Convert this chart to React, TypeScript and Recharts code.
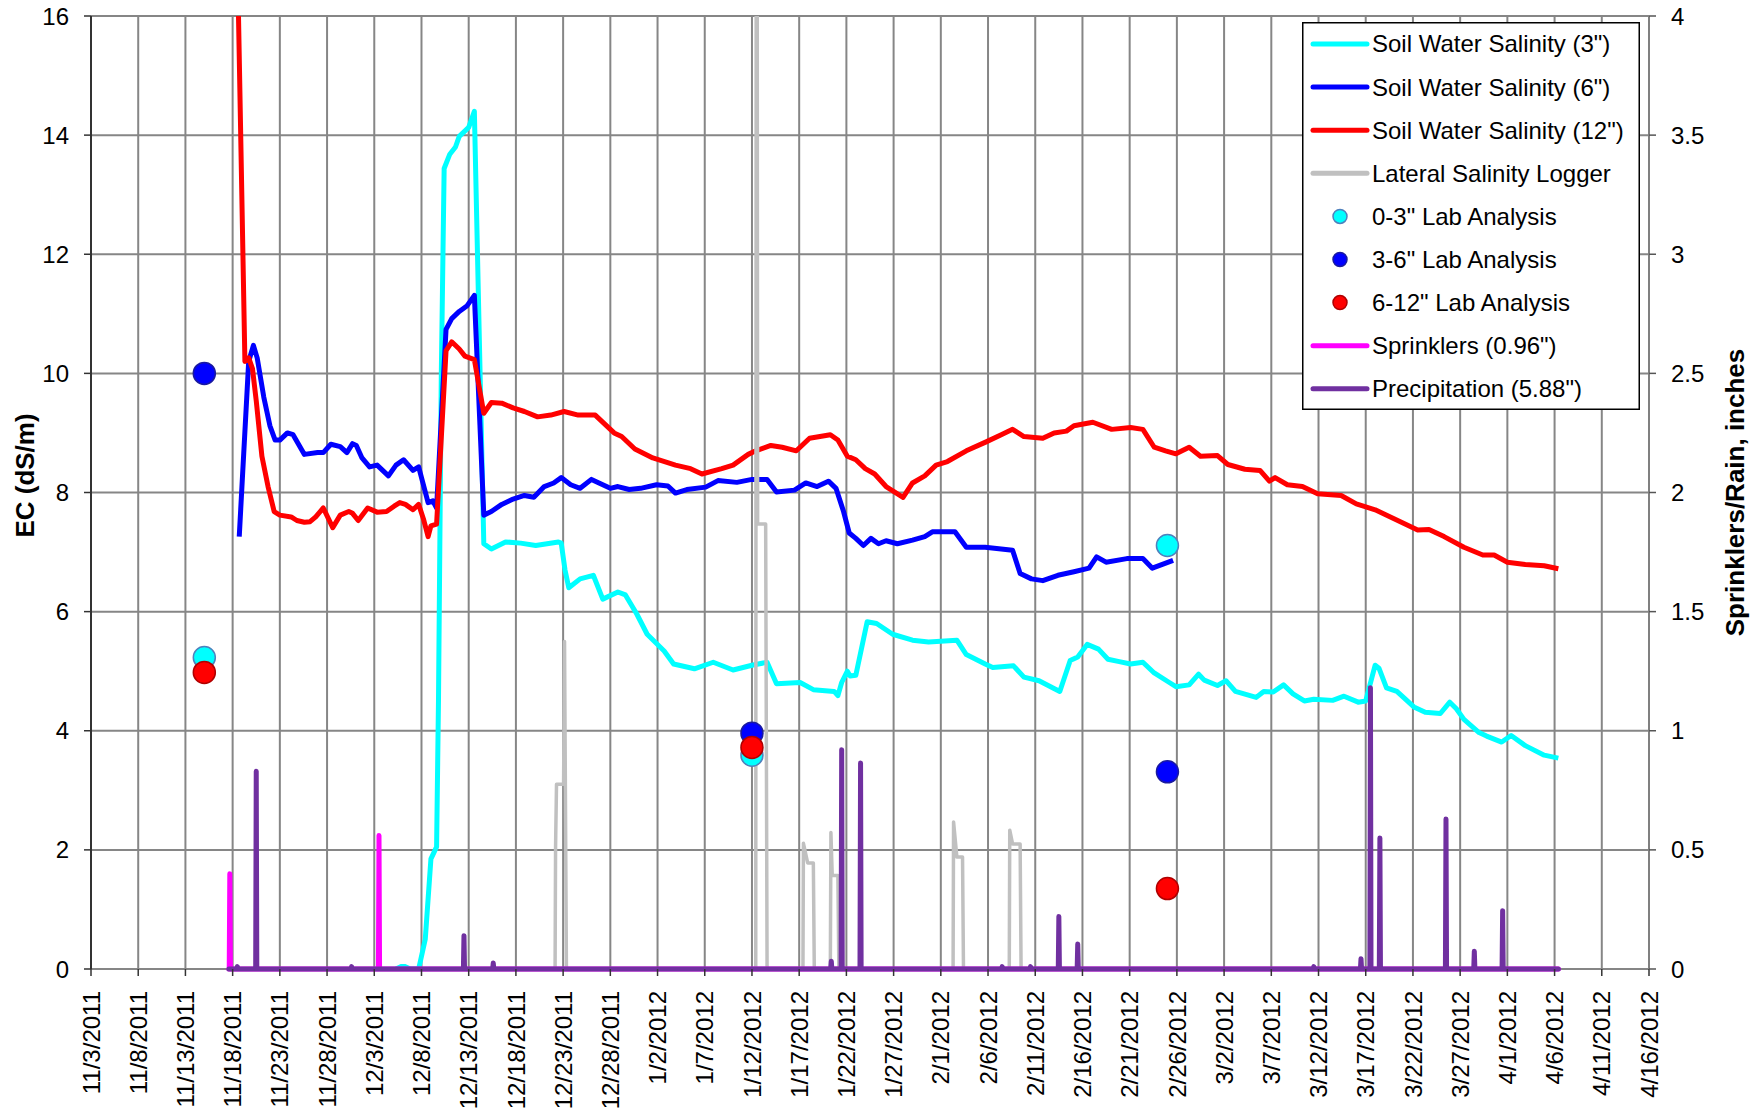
import React from 'react';
import { ComposedChart, Line, Scatter, XAxis, YAxis, CartesianGrid, Legend } from 'recharts';

const FONT = '"Liberation Sans", Arial, Helvetica, sans-serif';

// x values are days since 11/3/2011
const dateLabels = [
  '11/3/2011', '11/8/2011', '11/13/2011', '11/18/2011', '11/23/2011', '11/28/2011',
  '12/3/2011', '12/8/2011', '12/13/2011', '12/18/2011', '12/23/2011', '12/28/2011',
  '1/2/2012', '1/7/2012', '1/12/2012', '1/17/2012', '1/22/2012', '1/27/2012',
  '2/1/2012', '2/6/2012', '2/11/2012', '2/16/2012', '2/21/2012', '2/26/2012',
  '3/2/2012', '3/7/2012', '3/12/2012', '3/17/2012', '3/22/2012', '3/27/2012',
  '4/1/2012', '4/6/2012', '4/11/2012', '4/16/2012',
];
const dayTicks = dateLabels.map((_, i) => i * 5);
const ecTicks = [0, 2, 4, 6, 8, 10, 12, 14, 16];
const rainTicks = [0, 0.5, 1, 1.5, 2, 2.5, 3, 3.5, 4];

type P = [number, number];

const soil3: P[] = [
  [32.3, 0], [32.8, 0.04], [33.3, 0.04], [33.8, 0], [34.7, 0], [35.4, 0.5], [36.0, 1.85], [36.6, 2.05],
  [36.8, 4.5], [37.1, 10], [37.4, 13.44], [38.0, 13.68], [38.6, 13.8], [39.0, 13.98], [40.0, 14.13],
  [40.6, 14.4], [41.6, 7.14], [42.4, 7.05], [43.9, 7.17], [45.5, 7.15], [47.1, 7.11], [49.5, 7.17],
  [49.8, 7.15], [50.2, 6.7], [50.6, 6.4], [51.8, 6.55], [53.2, 6.61], [54.2, 6.21], [55.8, 6.33],
  [56.6, 6.28], [57.8, 5.96], [58.9, 5.62], [60.7, 5.34], [61.7, 5.12], [63.9, 5.04], [65.9, 5.15],
  [68.0, 5.02], [70.0, 5.1], [71.6, 5.15], [72.6, 4.79], [75.1, 4.81], [76.5, 4.69], [78.7, 4.66],
  [79.1, 4.59], [79.5, 4.81], [80.1, 5.0], [80.4, 4.92], [81.0, 4.93], [82.2, 5.83], [83.2, 5.8],
  [84.9, 5.62], [87.0, 5.52], [88.7, 5.49], [91.7, 5.52], [92.7, 5.28], [94.7, 5.12], [95.5, 5.06],
  [97.7, 5.09], [98.8, 4.9], [100.4, 4.84], [102.6, 4.66], [103.7, 5.18], [104.5, 5.24], [105.5, 5.45],
  [106.7, 5.37], [107.7, 5.2], [108.9, 5.16], [110.1, 5.12], [111.4, 5.15], [112.6, 4.97], [114.2, 4.81],
  [114.9, 4.74], [116.3, 4.77], [117.3, 4.95], [117.9, 4.85], [119.3, 4.76], [120.2, 4.84], [121.2, 4.66],
  [123.4, 4.56], [124.2, 4.66], [125.2, 4.65], [126.3, 4.77], [127.3, 4.62], [128.5, 4.5], [129.5, 4.53],
  [131.5, 4.51], [132.7, 4.58], [134.2, 4.48], [135.0, 4.5], [136.0, 5.1], [136.4, 5.05], [137.2, 4.72],
  [138.3, 4.66], [140.1, 4.4], [141.3, 4.31], [142.9, 4.29], [143.9, 4.48], [144.6, 4.37], [145.4, 4.19],
  [147.0, 3.97], [147.8, 3.91], [149.4, 3.81], [150.4, 3.92], [151.9, 3.75], [153.9, 3.59], [155.4, 3.54],
];

const soil6: P[] = [
  [15.7, 7.26], [16.7, 10.2], [17.2, 10.47], [17.6, 10.26], [18.3, 9.6], [18.95, 9.12], [19.5, 8.88],
  [20.0, 8.88], [20.8, 9.0], [21.4, 8.97], [22.6, 8.64], [24.0, 8.67], [24.6, 8.67], [25.4, 8.81],
  [26.4, 8.77], [27.1, 8.67], [27.7, 8.82], [28.1, 8.79], [28.7, 8.58], [29.5, 8.43], [30.3, 8.46],
  [31.5, 8.28], [32.3, 8.46], [33.1, 8.55], [34.1, 8.37], [34.7, 8.43], [35.7, 7.83], [36.2, 7.86],
  [36.6, 7.74], [37.6, 10.74], [38.2, 10.92], [39.0, 11.04], [39.8, 11.13], [40.6, 11.31], [41.6, 7.62],
  [42.4, 7.68], [43.5, 7.8], [44.7, 7.89], [45.9, 7.95], [46.9, 7.92], [48.0, 8.1], [49.0, 8.16],
  [49.8, 8.25], [50.8, 8.13], [51.8, 8.07], [53.0, 8.22], [55.0, 8.07], [55.8, 8.1], [57.0, 8.05],
  [58.2, 8.07], [59.9, 8.13], [61.1, 8.11], [61.9, 7.99], [63.1, 8.05], [65.1, 8.09], [66.4, 8.2],
  [68.4, 8.17], [70.0, 8.22], [71.6, 8.22], [72.6, 8.01], [74.5, 8.04], [75.7, 8.16], [76.9, 8.1],
  [78.1, 8.19], [78.9, 8.07], [79.7, 7.68], [80.3, 7.32], [81.0, 7.23], [81.8, 7.11], [82.6, 7.23],
  [83.4, 7.14], [84.2, 7.19], [85.4, 7.14], [87.0, 7.2], [88.3, 7.26], [89.1, 7.34], [91.5, 7.34],
  [92.7, 7.08], [94.7, 7.08], [97.6, 7.03], [98.4, 6.64], [99.6, 6.55], [100.8, 6.52], [102.4, 6.61],
  [104.1, 6.67], [105.7, 6.73], [106.5, 6.92], [107.5, 6.83], [109.7, 6.89], [111.4, 6.89], [112.4, 6.73],
  [114.6, 6.86],
];

const soil12: P[] = [
  [15.55, 16.6], [16.3, 10.2], [16.7, 10.26], [17.1, 10.08], [17.5, 9.54], [18.1, 8.61], [18.75, 8.1],
  [19.4, 7.68], [20.0, 7.62], [21.2, 7.59], [21.8, 7.53], [22.6, 7.5], [23.2, 7.51], [23.8, 7.59],
  [24.6, 7.74], [25.6, 7.41], [26.4, 7.62], [27.3, 7.68], [27.7, 7.65], [28.3, 7.53], [29.3, 7.74],
  [30.3, 7.67], [31.3, 7.68], [32.1, 7.77], [32.7, 7.83], [33.3, 7.8], [34.1, 7.71], [34.7, 7.8],
  [35.2, 7.56], [35.7, 7.26], [36.0, 7.44], [36.6, 7.47], [37.6, 10.38], [38.2, 10.53], [39.0, 10.41],
  [39.6, 10.29], [40.6, 10.23], [41.6, 9.33], [42.4, 9.51], [43.5, 9.5], [44.7, 9.42], [45.9, 9.36],
  [47.3, 9.27], [48.7, 9.3], [50.1, 9.36], [51.6, 9.3], [53.4, 9.3], [55.4, 9.0], [56.2, 8.94],
  [57.6, 8.73], [59.5, 8.58], [61.9, 8.46], [63.5, 8.4], [64.7, 8.31], [66.8, 8.4], [68.0, 8.46],
  [69.6, 8.64], [70.4, 8.7], [72.0, 8.79], [73.2, 8.76], [74.7, 8.7], [76.1, 8.91], [78.3, 8.97],
  [79.1, 8.88], [80.1, 8.61], [81.0, 8.55], [82.0, 8.4], [83.0, 8.31], [84.2, 8.1], [86.0, 7.92],
  [87.0, 8.16], [88.3, 8.28], [89.5, 8.46], [90.7, 8.52], [92.7, 8.7], [94.8, 8.85], [96.4, 8.97],
  [97.6, 9.06], [98.8, 8.94], [100.8, 8.91], [102.0, 9.0], [103.3, 9.03], [104.1, 9.12], [106.1, 9.18],
  [108.1, 9.06], [110.1, 9.09], [111.4, 9.06], [112.6, 8.76], [113.8, 8.7], [114.9, 8.65], [116.3, 8.76],
  [117.5, 8.61], [119.3, 8.62], [120.4, 8.47], [122.2, 8.39], [123.8, 8.37], [124.8, 8.19], [125.4, 8.25],
  [126.7, 8.13], [128.3, 8.1], [129.9, 7.98], [132.4, 7.95], [134.0, 7.81], [136.0, 7.71], [138.0, 7.56],
  [140.5, 7.37], [141.7, 7.38], [143.3, 7.26], [145.4, 7.08], [147.4, 6.95], [148.6, 6.95], [150.0, 6.83],
  [151.9, 6.79], [153.9, 6.77], [155.4, 6.72],
];

const lateralLogger: P[] = [
  [14.6, 0], [49.15, 0], [49.2, 2.05], [49.3, 3.1], [50.05, 3.1], [50.15, 5.5], [50.35, 0],
  [70.4, 0], [70.45, 18], [70.55, 18], [70.6, 7.47], [71.45, 7.47], [71.6, 0],
  [75.4, 0], [75.45, 2.11], [75.9, 1.78], [76.5, 1.78], [76.6, 0],
  [78.3, 0], [78.36, 2.29], [78.5, 1.57], [79.1, 1.57], [79.2, 0],
  [91.3, 0], [91.35, 2.47], [91.7, 1.88], [92.3, 1.88], [92.4, 0],
  [97.25, 0], [97.3, 2.33], [97.6, 2.1], [98.4, 2.1], [98.5, 0], [155.4, 0],
];

const lab03: P[] = [[12, 5.23], [70, 3.59], [114, 7.11]];
const lab36: P[] = [[12, 10.0], [70, 3.96], [114, 3.31]];
const lab612: P[] = [[12, 4.98], [70, 3.72], [114, 1.35]];

const sprinklerEvents: P[] = [[14.7, 0.4], [30.5, 0.56]];
const precipEvents: P[] = [
  [15.5, 0.01], [17.5, 0.83], [27.6, 0.01], [39.5, 0.14], [42.6, 0.025], [78.4, 0.033], [79.5, 0.92],
  [81.5, 0.865], [96.5, 0.01], [99.5, 0.01], [102.5, 0.22], [104.5, 0.105], [129.5, 0.01], [134.5, 0.043],
  [135.5, 1.18], [136.5, 0.55], [143.5, 0.63], [146.5, 0.074], [149.5, 0.245],
];
const recordStart = 14.6;
const recordEnd = 155.4;

const toXY = (arr: P[]) => arr.map(([x, y]) => ({ x, y }));
const spikes = (events: P[]) => {
  const pts: { x: number; y: number }[] = [{ x: recordStart, y: 0 }];
  events.forEach(([d, v]) => {
    pts.push({ x: d - 0.06, y: 0 }, { x: d, y: v }, { x: d + 0.06, y: 0 });
  });
  pts.push({ x: recordEnd, y: 0 });
  return pts;
};

const legendItems = [
  { label: 'Soil Water Salinity (3")', kind: 'line', color: '#00FFFF' },
  { label: 'Soil Water Salinity (6")', kind: 'line', color: '#0000FF' },
  { label: 'Soil Water Salinity (12")', kind: 'line', color: '#FF0000' },
  { label: 'Lateral Salinity Logger', kind: 'line', color: '#C0C0C0' },
  { label: '0-3" Lab Analysis', kind: 'dot', color: '#00FFFF', edge: '#4F81BD' },
  { label: '3-6" Lab Analysis', kind: 'dot', color: '#0000FF', edge: '#1A1AA0' },
  { label: '6-12" Lab Analysis', kind: 'dot', color: '#FF0000', edge: '#B00000' },
  { label: 'Sprinklers (0.96")', kind: 'line', color: '#FF00FF' },
  { label: 'Precipitation (5.88")', kind: 'line', color: '#7030A0' },
];

const LegendBox = () => (
  <svg width={338} height={388} style={{ display: 'block' }}>
    <rect x={0.75} y={0.75} width={336.5} height={386.5} fill="#fff" stroke="#000" strokeWidth={1.5} />
    {legendItems.map((it, i) => {
      const cy = 22 + i * 43.1;
      return (
        <g key={it.label}>
          {it.kind === 'line' ? (
            <line x1={11} y1={cy} x2={65} y2={cy} stroke={it.color} strokeWidth={5} strokeLinecap="round" />
          ) : (
            <circle cx={38} cy={cy} r={7} fill={it.color} stroke={it.edge} strokeWidth={1.5} />
          )}
          <text x={70} y={cy} dy="0.35em" fontSize={24} fontFamily={FONT} fill="#000">
            {it.label}
          </text>
        </g>
      );
    })}
  </svg>
);

const DateTick = (props: any) => {
  const { x, y, payload } = props;
  const i = Math.round(payload.value / 5);
  return (
    <text x={x} y={y} transform={`rotate(-90 ${x} ${y})`} textAnchor="end" dy="0.36em"
      fontSize={24} fontFamily={FONT} fill="#000">
      {dateLabels[i]}
    </text>
  );
};

const LeftTitle = (props: any) => {
  const vb = props.viewBox || { x: 0, y: 16, width: 91, height: 953 };
  const cx = vb.x + 25;
  const cy = vb.y + vb.height / 2 - 17;
  return (
    <text x={cx} y={cy} transform={`rotate(-90 ${cx} ${cy})`} textAnchor="middle" dy="0.35em"
      fontSize={26} fontWeight="bold" fontFamily={FONT} fill="#000">EC (dS/m)</text>
  );
};

const RightTitle = (props: any) => {
  const vb = props.viewBox || { x: 1649, y: 16, width: 114, height: 953 };
  const cx = vb.x + 86;
  const cy = vb.y + vb.height / 2;
  return (
    <text x={cx} y={cy} transform={`rotate(-90 ${cx} ${cy})`} textAnchor="middle" dy="0.35em"
      fontSize={26} fontWeight="bold" fontFamily={FONT} fill="#000">Sprinklers/Rain, inches</text>
  );
};

const dotShape = (fill: string, edge: string) => (props: any) => (
  <circle cx={props.cx} cy={props.cy} r={11} fill={fill} stroke={edge} strokeWidth={1.5} />
);

export default function App() {
  return (
    <div style={{ position: 'absolute', left: 0, top: 0, width: 1763, height: 1119, background: '#fff' }}>
      <ComposedChart width={1763} height={1119} margin={{ top: 16, right: 0, bottom: 0, left: 0 }}
        style={{ fontFamily: FONT }}>
        <CartesianGrid yAxisId="left" stroke="#868686" strokeWidth={2} />
        <XAxis type="number" dataKey="x" domain={[0, 165]} ticks={dayTicks} interval={0} height={150}
          tickSize={7} tickMargin={15} tick={<DateTick />}
          axisLine={false} tickLine={{ stroke: '#333', strokeWidth: 1.5 }} />
        <YAxis yAxisId="left" type="number" dataKey="y" domain={[0, 16]} ticks={ecTicks} interval={0}
          width={91} allowDataOverflow tickSize={7} tickMargin={15}
          tick={{ fontSize: 24, fill: '#000', fontFamily: FONT }}
          axisLine={{ stroke: '#333', strokeWidth: 2 }} tickLine={{ stroke: '#333', strokeWidth: 1.5 }}
          label={{ content: <LeftTitle /> } as any} />
        <YAxis yAxisId="right" orientation="right" type="number" dataKey="y" domain={[0, 4]} ticks={rainTicks}
          interval={0} width={114} tickSize={7} tickMargin={15}
          tick={{ fontSize: 24, fill: '#000', fontFamily: FONT }}
          axisLine={{ stroke: '#808080', strokeWidth: 2 }} tickLine={{ stroke: '#555', strokeWidth: 1.5 }}
          label={{ content: <RightTitle /> } as any} />

        <Line yAxisId="left" data={toXY(soil3)} dataKey="y" stroke="#00FFFF" strokeWidth={5} dot={false}
          isAnimationActive={false} strokeLinejoin="round" legendType="none" />
        <Line yAxisId="left" data={toXY(soil6)} dataKey="y" stroke="#0000FF" strokeWidth={5} dot={false}
          isAnimationActive={false} strokeLinejoin="round" legendType="none" />
        <Line yAxisId="left" data={toXY(soil12)} dataKey="y" stroke="#FF0000" strokeWidth={5} dot={false}
          isAnimationActive={false} strokeLinejoin="round" legendType="none" />
        <Line yAxisId="left" data={toXY(lateralLogger)} dataKey="y" stroke="#C0C0C0" strokeWidth={3.5}
          dot={false} isAnimationActive={false} strokeLinejoin="round" legendType="none" />
        <Line yAxisId="right" data={spikes(sprinklerEvents)} dataKey="y" stroke="#FF00FF" strokeWidth={5}
          dot={false} isAnimationActive={false} strokeLinejoin="round" strokeLinecap="round" legendType="none" />
        <Line yAxisId="right" data={spikes(precipEvents)} dataKey="y" stroke="#7030A0" strokeWidth={5}
          dot={false} isAnimationActive={false} strokeLinejoin="round" strokeLinecap="round" legendType="none" />

        <Scatter yAxisId="left" data={toXY(lab03)} isAnimationActive={false}
          shape={dotShape('#00FFFF', '#4F81BD')} legendType="none" />
        <Scatter yAxisId="left" data={toXY(lab36)} isAnimationActive={false}
          shape={dotShape('#0000FF', '#1A1AA0')} legendType="none" />
        <Scatter yAxisId="left" data={toXY(lab612)} isAnimationActive={false}
          shape={dotShape('#FF0000', '#B00000')} legendType="none" />

        <Legend layout="vertical" align="center" verticalAlign="middle"
          wrapperStyle={{ left: 1302, top: 22, width: 338, height: 388 }}
          content={() => <LegendBox />} />
      </ComposedChart>
    </div>
  );
}
